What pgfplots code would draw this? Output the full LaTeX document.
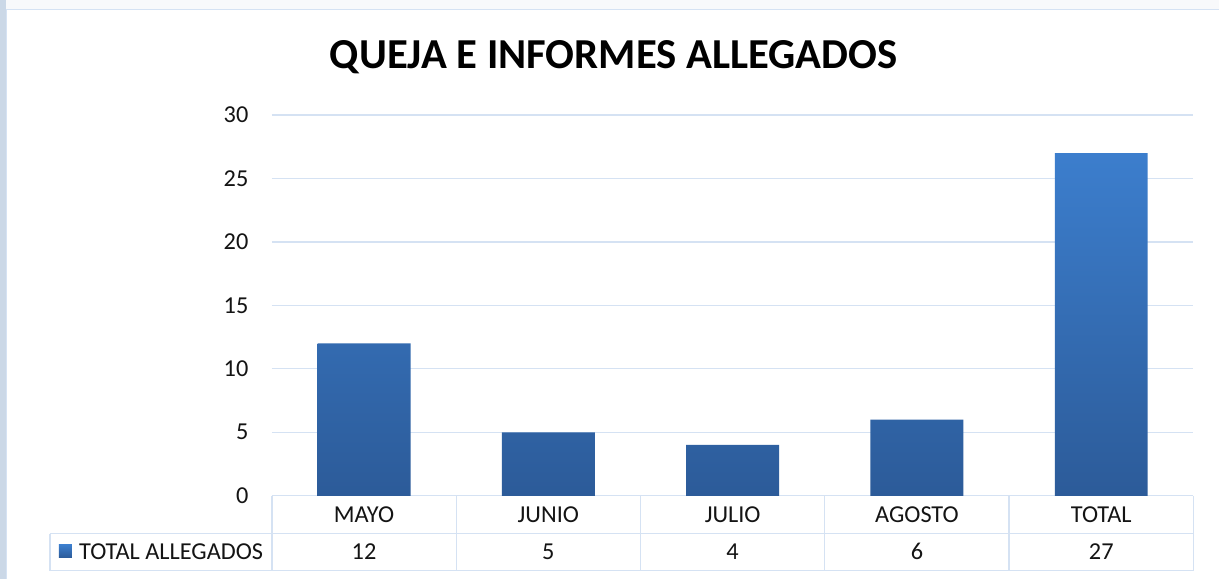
\documentclass[border=0pt]{standalone}
\usepackage{fontspec}
\setmainfont{Carlito}
\usepackage{pgfplots}
\pgfplotsset{compat=1.18}
\definecolor{gridc}{RGB}{213,226,243}
\definecolor{framec}{RGB}{203,216,231}
\definecolor{topc}{RGB}{248,249,251}
\definecolor{bartop}{RGB}{60,126,205}
\definecolor{barbot}{RGB}{44,91,153}
\definecolor{txt}{RGB}{20,20,20}
\begin{document}
\begin{tikzpicture}[x=1pt,y=1pt]
\fill[topc] (0,0) rectangle (1220,579);
\fill[framec] (0,0) rectangle (6,579);
\fill[white] (6,0) rectangle (1220,569);
\draw[gridc, line width=1.2pt] (6.5,0) -- (6.5,569.5) -- (1220,569.5);
\node[font=\fontsize{42.7}{48}\selectfont\bfseries, text=black] at (614,522) {QUEJA E INFORMES ALLEGADOS};
\begin{axis}[
  at={(272pt,83pt)}, anchor=south west,
  scale only axis, width=922pt, height=381pt,
  xmin=-0.5, xmax=4.5, ymin=0, ymax=30,
  ytick={0,5,...,30},
  xtick={0,1,2,3,4},
  xticklabels={MAYO,JUNIO,JULIO,AGOSTO,TOTAL},
  extra x ticks={0,1,2,3,4},
  extra x tick labels={12,5,4,6,27},
  extra x tick style={grid=none, tick label style={yshift=-37pt}},
  xticklabel style={anchor=center, yshift=-19pt, font=\fontsize{24.3}{29}\selectfont, text=txt},
  yticklabel style={anchor=east, xshift=-20pt, font=\fontsize{24.3}{29}\selectfont, text=txt},
  /pgf/number format/assume math mode=true,
  major tick length=0pt,
  axis line style={draw=none},
  ymajorgrids,
  major grid style={gridc, line width=1.3pt},
  clip=false,
]
\addplot[ybar, bar width=93pt, draw=none, top color=bartop, bottom color=barbot]
  coordinates {(0,12) (1,5) (2,4) (3,6) (4,27)};
\end{axis}
\begin{scope}[gridc, line width=1.3pt]
\draw (50,45) -- (1194,45);
\draw (50,8) -- (1194,8);
\draw (50,45) -- (50,8);
\foreach \xx in {272,456.4,640.8,825.2,1009.6,1194} {\draw (\xx,83) -- (\xx,8);}
\end{scope}
\fill[top color=bartop, bottom color=barbot] (59,21) rectangle (72,34);
\node[anchor=west, inner sep=0pt, text=txt, font=\fontsize{24.3}{29}\selectfont] at (79,27) {TOTAL ALLEGADOS};
\end{tikzpicture}
\end{document}
